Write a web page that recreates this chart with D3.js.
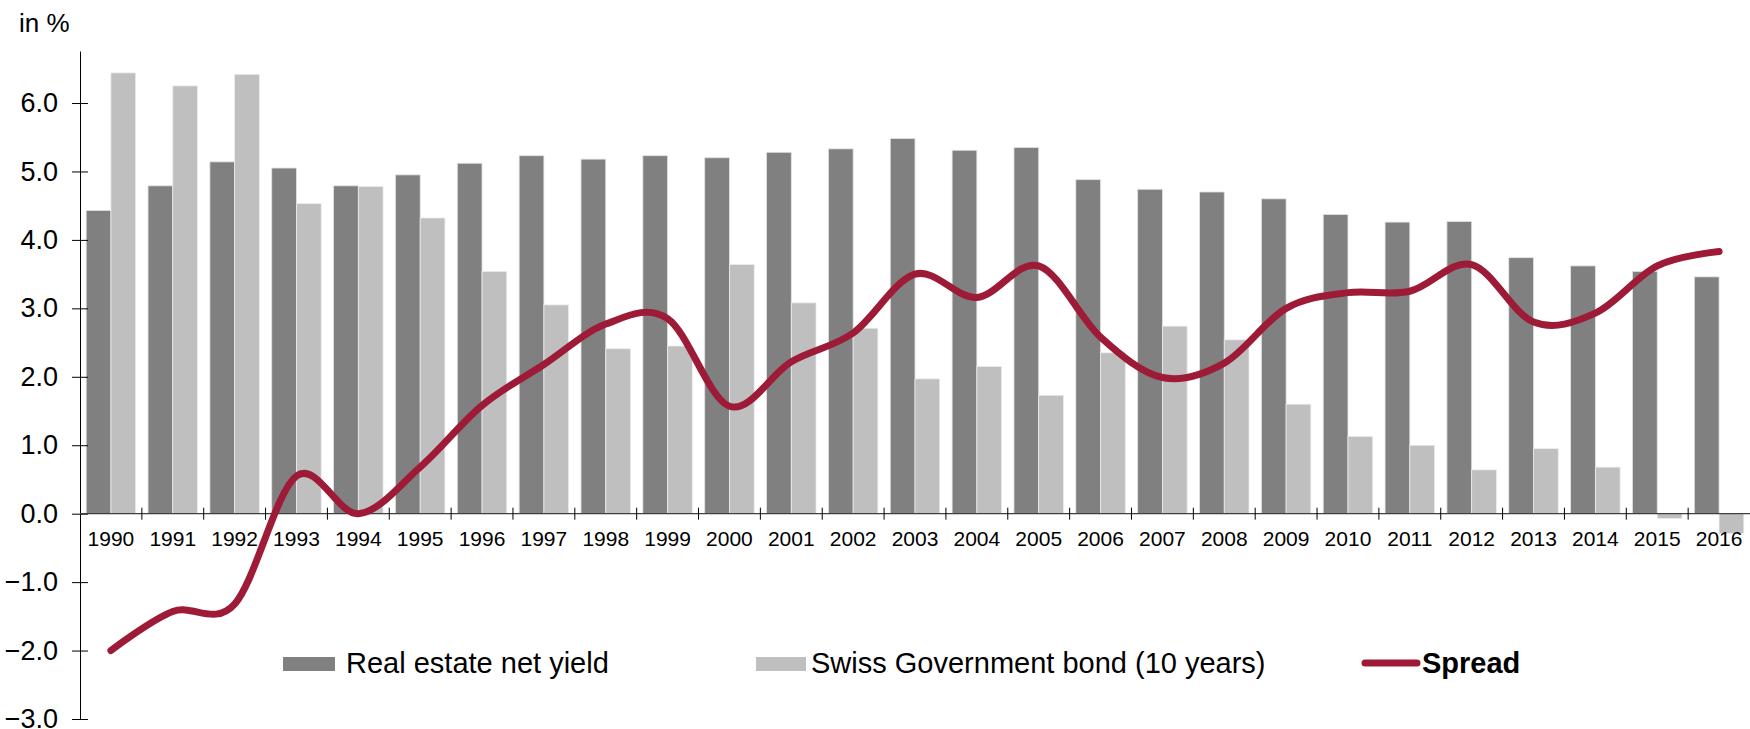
<!DOCTYPE html>
<html>
    <head>
        <meta charset="utf-8">
        <style>
            body {
                margin: 0;
                background: #fff;
                font-family: Arial, "Liberation Sans", Helvetica, sans-serif;
            }
            .bar-dark { fill: #808080; stroke: #e2e2e2; stroke-width: 0.8; }
            .bar-light { fill: #bfbfbf; stroke: #ececec; stroke-width: 0.8; }
            .spread-path {
                fill: none;
                stroke: #9e1b38;
                stroke-width: 7;
                stroke-linecap: round;
                stroke-linejoin: round;
            }
            .y-axis text { font-size: 27px; fill: #000; }
            .x-labels text { font-size: 21px; fill: #000; }
            .legend text { font-size: 29px; fill: #000; }
        </style>
    </head>
    <body>
        <script src="https://d3js.org/d3.v7.min.js"></script>

        <script>
            const years = ['1990','1991','1992','1993','1994','1995','1996','1997','1998','1999',
                           '2000','2001','2002','2003','2004','2005','2006','2007','2008','2009',
                           '2010','2011','2012','2013','2014','2015','2016'];
            const realEstate = [4.43, 4.79, 5.14, 5.05, 4.79, 4.95, 5.12, 5.23, 5.18, 5.23,
                                5.20, 5.28, 5.33, 5.48, 5.31, 5.35, 4.88, 4.74, 4.70, 4.60,
                                4.37, 4.26, 4.27, 3.74, 3.62, 3.54, 3.46];
            const bond = [6.44, 6.25, 6.42, 4.53, 4.78, 4.32, 3.54, 3.05, 2.41, 2.45,
                          3.64, 3.08, 2.71, 1.97, 2.15, 1.73, 2.35, 2.74, 2.54, 1.60,
                          1.13, 1.00, 0.64, 0.95, 0.68, -0.07, -0.29];
            const spread = [-2.00, -1.43, -1.32, 0.55, 0.00, 0.68, 1.58, 2.18, 2.77, 2.85,
                            1.57, 2.22, 2.64, 3.50, 3.16, 3.62, 2.58, 1.99, 2.20, 3.00,
                            3.23, 3.25, 3.64, 2.80, 2.93, 3.62, 3.83];
            const yTicks = [-3, -2, -1, 0, 1, 2, 3, 4, 5, 6];
            const legendItems = ['Real estate net yield', 'Swiss Government bond (10 years)', 'Spread'];

            const width = 1750;
            const height = 729;

            const svg = d3.select('body').append('svg')
                .attr('width', width)
                .attr('height', height);

            const x = d3.scaleBand()
                .domain(years)
                .range([80, 1750])
                .padding(0);

            const y = d3.scaleLinear()
                .domain([-3, 6.76])
                .range([719, 51]);

            const step = x.step();
            const barW = step * 0.4;
            const barOff = step * 0.1;

            // bars
            svg.append('g').selectAll('rect')
                .data(years)
                .join('rect')
                .attr('class', 'bar-dark')
                .attr('x', (d) => x(d) + barOff)
                .attr('width', barW)
                .attr('y', (d, i) => y(Math.max(0, realEstate[i])))
                .attr('height', (d, i) => Math.abs(y(realEstate[i]) - y(0)));

            svg.append('g').selectAll('rect')
                .data(years)
                .join('rect')
                .attr('class', 'bar-light')
                .attr('x', (d) => x(d) + barOff + barW)
                .attr('width', barW)
                .attr('y', (d, i) => y(Math.max(0, bond[i])))
                .attr('height', (d, i) => Math.abs(y(bond[i]) - y(0)));

            // y axis
            const yAxis = d3.axisLeft(y)
                .tickValues(yTicks)
                .tickFormat(d3.format('.1f'))
                .tickSize(8)
                .tickSizeOuter(0)
                .tickPadding(15);

            const yG = svg.append('g')
                .attr('class', 'y-axis')
                .attr('transform', 'translate(80,0)')
                .call(yAxis);
            yG.select('.domain').attr('stroke', '#000');
            yG.selectAll('.tick line').attr('x1', -8).attr('x2', 8).attr('stroke', '#000');
            yG.selectAll('.tick text').attr('x', -22);

            // x axis at zero
            const xG = svg.append('g')
                .attr('transform', 'translate(0,' + y(0) + ')');
            xG.append('line')
                .attr('x1', 80).attr('x2', 1750)
                .attr('stroke', '#404040')
                .attr('stroke-width', 1.2);
            xG.selectAll('.sep')
                .data(years.slice(1))
                .join('line')
                .attr('class', 'sep')
                .attr('x1', (d) => x(d)).attr('x2', (d) => x(d))
                .attr('y1', -6).attr('y2', 6)
                .attr('stroke', '#000');
            xG.append('g')
                .attr('class', 'x-labels')
                .selectAll('text')
                .data(years)
                .join('text')
                .attr('x', (d) => x(d) + step / 2)
                .attr('y', 32)
                .attr('text-anchor', 'middle')
                .text((d) => d);

            // spread line
            const line = d3.line()
                .x((d, i) => x(years[i]) + step / 2)
                .y((d) => y(d))
                .curve(d3.curveCardinal.tension(0));

            svg.append('path')
                .datum(spread)
                .attr('class', 'spread-path')
                .attr('d', line);

            // "in %"
            svg.append('text')
                .attr('x', 19)
                .attr('y', 32)
                .attr('font-size', 26)
                .text('in %');

            // legend
            const legend = svg.append('g').attr('class', 'legend');
            legend.append('rect')
                .attr('x', 283).attr('y', 657).attr('width', 52).attr('height', 14)
                .attr('fill', '#808080');
            legend.append('text')
                .attr('x', 346).attr('y', 673)
                .text(legendItems[0]);
            legend.append('rect')
                .attr('x', 756).attr('y', 657).attr('width', 50).attr('height', 14)
                .attr('fill', '#bfbfbf');
            legend.append('text')
                .attr('x', 811).attr('y', 673)
                .text(legendItems[1]);
            legend.append('line')
                .attr('x1', 1365).attr('x2', 1417)
                .attr('y1', 663).attr('y2', 663)
                .attr('class', 'spread-path');
            legend.append('text')
                .attr('x', 1422).attr('y', 673)
                .attr('font-weight', 'bold')
                .text(legendItems[2]);
        </script>
    </body>
</html>
